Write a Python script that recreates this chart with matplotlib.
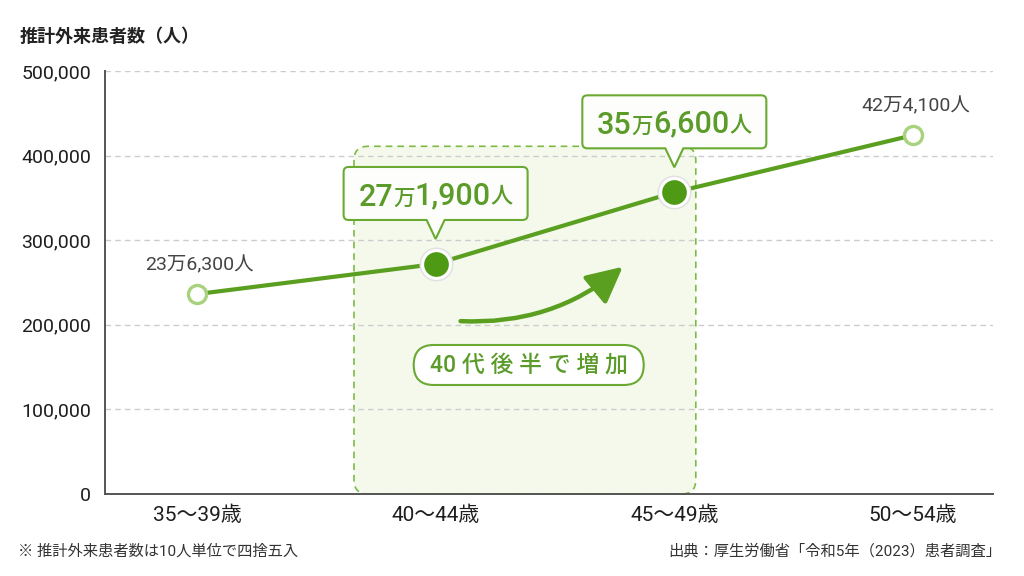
import matplotlib
matplotlib.use("Agg")
import matplotlib.pyplot as plt
from matplotlib.patches import FancyBboxPatch, PathPatch, FancyArrowPatch, ArrowStyle
from matplotlib.path import Path
from matplotlib.transforms import IdentityTransform

plt.rcParams['font.family'] = ['Roboto', 'Noto Sans CJK JP', 'DejaVu Sans']

# ---- data ----
categories = ["35～39歳", "40～44歳", "45～49歳", "50～54歳"]
patients = [236300, 271900, 356600, 424100]
value_labels = [("23", "万", "6,300", "人"), ("27", "万", "1,900", "人"),
                ("35", "万", "6,600", "人"), ("42", "万", "4,100", "人")]
yticks = [0, 100000, 200000, 300000, 400000, 500000]
ytick_labels = ["0", "100,000", "200,000", "300,000", "400,000", "500,000"]
highlight = [1, 2]
title = "推計外来患者数（人）"
badge = "40 代 後 半 で 増 加"
note = "※ 推計外来患者数は10人単位で四捨五入"
source = "出典：厚生労働省「令和5年（2023）患者調査」"

GREEN = '#5a9f1f'
DOT = '#4f9a14'
TXTG = '#5b9b2a'
LIGHT = '#a8d27e'

fig = plt.figure(figsize=(10.24, 5.76), dpi=100)
fig.patch.set_facecolor('white')
ax = fig.add_axes([105/1024, 1-494/576, (993-105)/1024, (494-71)/576])
ax.set_facecolor('none')
x = list(range(len(categories)))
ax.set_xlim(-0.385, 3.335)
ax.set_ylim(0, 500000)

for s in ['top', 'right']:
    ax.spines[s].set_visible(False)
for s in ['left', 'bottom']:
    ax.spines[s].set_color('#555555')
    ax.spines[s].set_linewidth(1.4)
ax.set_yticks(yticks)
ax.set_yticklabels(ytick_labels, fontsize=14, color='#1e1e1e')
ax.set_xticks(x)
ax.set_xticklabels(categories, fontsize=15, color='#1e1e1e')
ax.tick_params(length=0)
ax.tick_params(axis='y', pad=10)
ax.tick_params(axis='x', pad=8)
ax.set_axisbelow(True)
ax.grid(axis='y', linestyle=(0, (4, 3)), color='#cccccc', linewidth=1)

# highlight region (display coords)
hx0, hy0 = ax.transData.transform((highlight[0] - 0.342, 0))
hx1, hy1 = ax.transData.transform((highlight[1] + 0.09, 411000))
hl = FancyBboxPatch((hx0, hy0), hx1 - hx0, hy1 - hy0,
                    boxstyle='round,pad=0,rounding_size=14',
                    transform=IdentityTransform(), facecolor='#f4f9ec',
                    edgecolor='#7dbb45', linewidth=1.2, linestyle=(0, (4, 3)),
                    zorder=0.3, clip_on=False)
ax.add_artist(hl)

# line
ax.plot(x, patients, color=GREEN, lw=3, zorder=3, solid_capstyle='round')
# end markers (open)
ends = [0, len(x) - 1]
ax.plot([x[i] for i in ends], [patients[i] for i in ends], 'o', ms=13,
        mfc='white', mec=LIGHT, mew=2.4, zorder=4, ls='none')
# highlighted markers
hx = [x[i] for i in highlight]
hy = [patients[i] for i in highlight]
ax.plot(hx, hy, 'o', ms=23.5, color='#e2e2e2', zorder=4, ls='none')
ax.plot(hx, hy, 'o', ms=20, mfc=DOT, mec='white', mew=2.2, zorder=5, ls='none')

# end labels
for i in ends:
    a, m, b, p = value_labels[i]
    ax.annotate(a + m + b + p, (x[i], patients[i]), xytext=(2, 21),
                textcoords='offset points', ha='center', va='center',
                fontsize=14, color='#444444', zorder=6)

# callouts
fig.canvas.draw()


def callout(i):
    px, py = ax.transData.transform((x[i], patients[i]))
    W, H, b, t, nw, r = 184, 53, 44, 25, 9, 5
    x0, x1 = px - W / 2, px + W / 2
    y0, y1 = py + b, py + b + H
    verts = [(px - nw, y0), (x0 + r, y0), (x0, y0), (x0, y0 + r),
             (x0, y1 - r), (x0, y1), (x0 + r, y1),
             (x1 - r, y1), (x1, y1), (x1, y1 - r),
             (x1, y0 + r), (x1, y0), (x1 - r, y0),
             (px + nw, y0), (px, py + t), (px - nw, y0), (px - nw, y0)]
    codes = [Path.MOVETO, Path.LINETO, Path.CURVE3, Path.CURVE3,
             Path.LINETO, Path.CURVE3, Path.CURVE3,
             Path.LINETO, Path.CURVE3, Path.CURVE3,
             Path.LINETO, Path.CURVE3, Path.CURVE3,
             Path.LINETO, Path.LINETO, Path.LINETO, Path.CLOSEPOLY]
    pp = PathPatch(Path(verts, codes), transform=IdentityTransform(),
                   facecolor='#fdfefb', edgecolor='#6aaa33', lw=1.5,
                   zorder=6, clip_on=False)
    ax.add_artist(pp)
    parts = value_labels[i]
    sizes = [22, 15.5, 22, 16]
    base_dy = (b + 8) * 72 / 100
    arts = []
    first = ax.annotate(parts[0], (x[i], patients[i]), xytext=(0, base_dy),
                        textcoords='offset points', ha='left', va='bottom',
                        fontsize=sizes[0], fontweight='medium', color=TXTG,
                        zorder=7, annotation_clip=False)
    arts.append(first)
    prev = first
    for s, fs in zip(parts[1:], sizes[1:]):
        dy = 1.5 if fs < 20 else 0
        a = ax.annotate(s, (1, 0), xycoords=prev, xytext=(0, dy),
                        textcoords='offset points', ha='left', va='bottom',
                        fontsize=fs, fontweight='medium', color=TXTG, zorder=7,
                        annotation_clip=False)
        arts.append(a)
        prev = a
    return arts


groups = [callout(i) for i in highlight]
fig.canvas.draw()
r = fig.canvas.get_renderer()
for arts in groups:
    l = arts[0].get_window_extent(r).x0
    rr = arts[-1].get_window_extent(r).x1
    w = rr - l
    xa, ya = arts[0].xyann
    arts[0].xyann = (-(w / 2) * 72 / 100, ya)

# curved arrow
arr = FancyArrowPatch((1.093, 204500), (1.793, 270700),
                      connectionstyle='arc3,rad=0.2',
                      arrowstyle=ArrowStyle('-|>', head_length=1.0, head_width=0.5),
                      mutation_scale=22, color=GREEN, lw=3.2, zorder=3)
ax.add_patch(arr)

# badge
bx, by = ax.transData.transform((1.39, 152500))
badge_box = FancyBboxPatch((bx - 115, by - 20), 230, 40,
                           boxstyle='round,pad=0,rounding_size=20',
                           transform=IdentityTransform(), facecolor='white',
                           edgecolor='#6aaa33', lw=1.5, zorder=6, clip_on=False)
ax.add_artist(badge_box)
ax.text(1.39, 152500, badge, ha='center', va='center', fontsize=16.5,
        fontweight='medium', color=TXTG, zorder=7)

# texts
fig.text(20/1024, 1-37/576, title, fontsize=13, fontweight='bold',
         color='#222222', ha='left', va='center')
fig.text(18/1024, 1-551/576, note, fontsize=11, color='#333333',
         ha='left', va='center')
fig.text(1001/1024, 1-551/576, source, fontsize=11, color='#333333',
         ha='right', va='center')

fig.savefig('out.png', dpi=100, facecolor='white')
